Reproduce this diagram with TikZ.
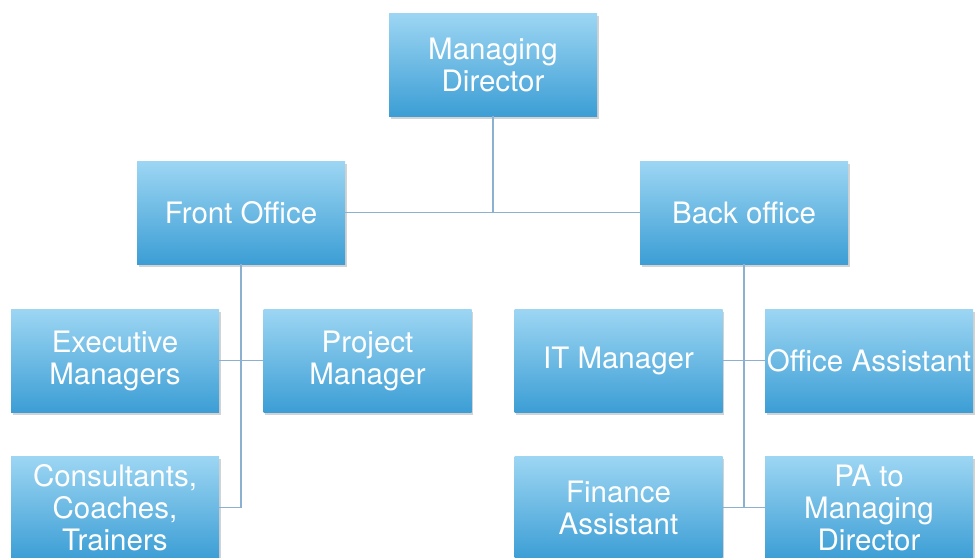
\documentclass[tikz,border=0pt]{standalone}
\usepackage{fontspec}
\setmainfont{TeX Gyre Heros}
\usetikzlibrary{positioning,shadows}

\definecolor{boxtop}{HTML}{9DD6F3}
\definecolor{boxbottom}{HTML}{3C9ED5}
\definecolor{linkblue}{HTML}{8CB0CF}

\begin{document}
\begin{tikzpicture}[x=1pt,y=-1pt,node distance=148pt,on grid]
            \tikzstyle{post}=[rectangle, minimum width=208pt, minimum height=103pt,
                inner sep=0pt, align=center, text=white,
                font=\fontsize{29.5}{32}\selectfont,
                top color=boxtop, bottom color=boxbottom,
                drop shadow={shadow xshift=1.5pt, shadow yshift=-3pt, opacity=0.35}]
            \tikzstyle{link}=[draw=linkblue, line width=1.6pt]

            \useasboundingbox (0,0) rectangle (977,557);

            \node[post] (md)  at (493,64.5)                           {Managing\\Director};
            \node[post] (fo)  [below left=148pt and 252pt of md]      {Front Office};
            \node[post] (bo)  [below right=148pt and 251pt of md]     {Back office};

            \node[post] (em)  [below left=148pt and 126pt of fo]      {Executive\\Managers};
            \node[post] (pm)  [below right=148pt and 126.5pt of fo]   {Project\\Manager};
            \node[post] (cct) [below=147pt of em]                     {Consultants,\\Coaches,\\Trainers};

            \node[post] (it)  [below left=148pt and 125.5pt of bo]    {IT Manager};
            \node[post] (oa)  [below right=148pt and 125pt of bo]     {Office Assistant};
            \node[post] (fa)  [below=147pt of it]                     {Finance\\Assistant};
            \node[post] (pa)  [below=147pt of oa]                     {PA to\\Managing\\Director};

            \begin{scope}[on background layer/.try]
            \path[link]
                (md.south) -- (md.south |- fo.east)
                (fo.east) -- (bo.west)

                (fo.south) -- (fo.south |- cct.east) -- (cct.east)
                (em.east) -- (pm.west)

                (bo.south) -- (bo.south |- fa.east)
                (it.east) -- (oa.west)
                (fa.east) -- (pa.west)
                ;
            \end{scope}
\end{tikzpicture}
\end{document}
